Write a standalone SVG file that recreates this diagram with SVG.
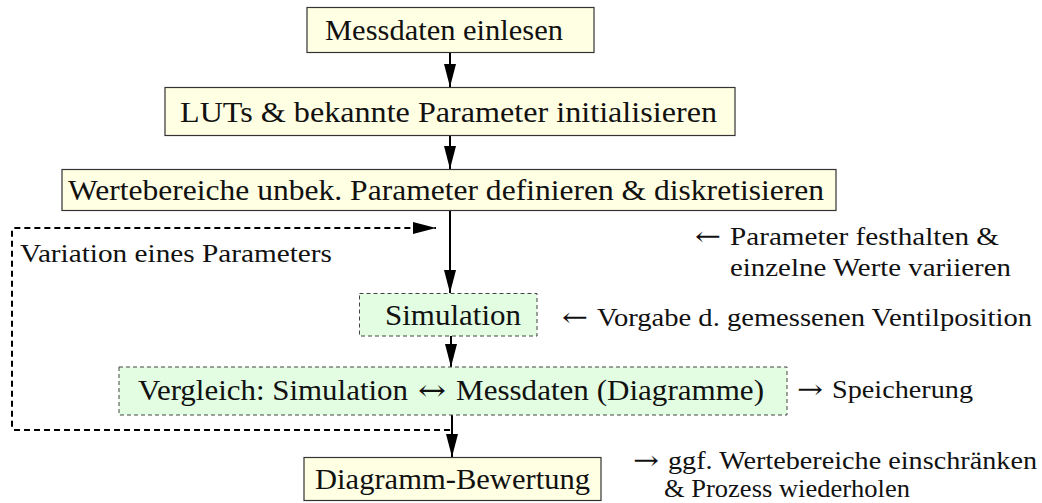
<svg xmlns="http://www.w3.org/2000/svg" width="1042" height="503" viewBox="0 0 1042 503">
<style>
  .big { font-size: 28.5px; }
  .small { font-size: 26px; }
  .arr { font-family: "DejaVu Serif", serif; }
  .yel { fill: #FFFFE3; stroke: #333; stroke-width: 1.2; }
  .grn { fill: #E2FDE2; stroke: #444; stroke-width: 1; stroke-dasharray: 4 3; }
  .conn { fill: none; stroke: #000; stroke-width: 2; }
  .loop { fill: none; stroke: #000; stroke-width: 2; stroke-dasharray: 6 4; }
</style>
<defs>
  <marker id="ah" markerUnits="userSpaceOnUse" markerWidth="24" markerHeight="14" viewBox="0 0 24 14" refX="23" refY="7" orient="auto">
    <path d="M0,1 L23,7 L0,13 z" fill="#000"/>
  </marker>
</defs>
<rect width="1042" height="503" fill="#fff"/>

<g id="connectors">
  <line class="conn" x1="450" y1="52" x2="450" y2="87" marker-end="url(#ah)"/>
  <line class="conn" x1="450" y1="136" x2="450" y2="169" marker-end="url(#ah)"/>
  <line class="conn" x1="450" y1="211" x2="450" y2="293" marker-end="url(#ah)"/>
  <line class="conn" x1="451" y1="336" x2="451" y2="367" marker-end="url(#ah)"/>
  <line class="conn" x1="452" y1="415" x2="452" y2="457" marker-end="url(#ah)"/>
  <path class="loop" d="M450,430 L14,430 Q12,430 12,428 L12,230 Q12,228 14,228 L436,228" marker-end="url(#ah)"/>
</g>

<g font-family="Liberation Serif, serif" fill="#111">
<g id="n1">
  <rect class="yel" x="307" y="7.5" width="287" height="45"/>
  <text class="big" x="325" y="39.5" textLength="238" lengthAdjust="spacingAndGlyphs">Messdaten einlesen</text>
</g>
<g id="n2">
  <rect class="yel" x="165" y="87.5" width="570" height="48"/>
  <text class="big" x="180" y="122" textLength="537" lengthAdjust="spacingAndGlyphs">LUTs &amp; bekannte Parameter initialisieren</text>
</g>
<g id="n3">
  <rect class="yel" x="62" y="169.5" width="774" height="41"/>
  <text class="big" x="68" y="200" textLength="756" lengthAdjust="spacingAndGlyphs">Wertebereiche unbek. Parameter definieren &amp; diskretisieren</text>
</g>
<g id="n4">
  <rect class="grn" x="359.5" y="293.5" width="177.5" height="42.5"/>
  <text class="big" x="385" y="325" textLength="136" lengthAdjust="spacingAndGlyphs">Simulation</text>
</g>
<g id="n5">
  <rect class="grn" x="119" y="367" width="668" height="48"/>
  <text class="big" x="138" y="399.5" textLength="270" lengthAdjust="spacingAndGlyphs">Vergleich: Simulation</text>
  <text class="big arr" x="418" y="399.5" textLength="28" lengthAdjust="spacingAndGlyphs">↔</text>
  <text class="big" x="456" y="399.5" textLength="308" lengthAdjust="spacingAndGlyphs">Messdaten (Diagramme)</text>
</g>
<g id="n6">
  <rect class="yel" x="304" y="457.5" width="297" height="43"/>
  <text class="big" x="315" y="488.5" textLength="275" lengthAdjust="spacingAndGlyphs">Diagramm-Bewertung</text>
</g>
</g>

<g id="notes" font-family="Liberation Serif, serif" fill="#111">
  <text class="small" x="20" y="262" textLength="312" lengthAdjust="spacingAndGlyphs">Variation eines Parameters</text>
  <text class="small arr" x="695" y="245" textLength="26" lengthAdjust="spacingAndGlyphs">←</text>
  <text class="small" x="730" y="245" textLength="269" lengthAdjust="spacingAndGlyphs">Parameter festhalten &amp;</text>
  <text class="small" x="730" y="276" textLength="281" lengthAdjust="spacingAndGlyphs">einzelne Werte variieren</text>
  <text class="small arr" x="562" y="326" textLength="26" lengthAdjust="spacingAndGlyphs">←</text>
  <text class="small" x="597" y="326" textLength="435" lengthAdjust="spacingAndGlyphs">Vorgabe d. gemessenen Ventilposition</text>
  <text class="small arr" x="797" y="398" textLength="26" lengthAdjust="spacingAndGlyphs">→</text>
  <text class="small" x="832" y="398" textLength="141" lengthAdjust="spacingAndGlyphs">Speicherung</text>
  <text class="small arr" x="633" y="469" textLength="26" lengthAdjust="spacingAndGlyphs">→</text>
  <text class="small" x="668" y="469" textLength="369" lengthAdjust="spacingAndGlyphs">ggf. Wertebereiche einschränken</text>
  <text class="small" x="664" y="497" textLength="246" lengthAdjust="spacingAndGlyphs">&amp; Prozess wiederholen</text>
</g>
</svg>
